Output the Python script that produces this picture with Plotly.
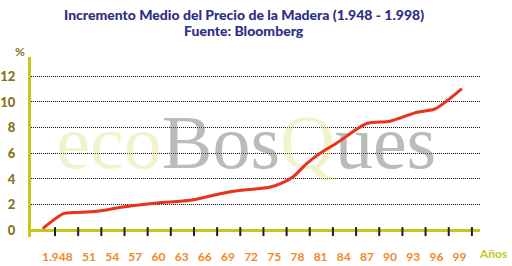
import plotly.graph_objects as go

# ---- data ----
line_years = [1946.4, 1949.1, 1950.4, 1953.4, 1956.8, 1961.2, 1965.5, 1968.5, 1971.1,
              1975.9, 1977.2, 1978.8, 1980.6, 1982.3, 1984.5, 1988.4, 1991.4, 1994.9,
              1997.2, 1998.7, 2000.7]
line_values = [0.13, 1.30, 1.38, 1.48, 1.82, 2.13, 2.34, 2.73, 3.04,
               3.37, 3.64, 4.15, 5.20, 5.98, 6.80, 8.32, 8.50, 9.20,
               9.45, 10.05, 11.04]
tick_years = list(range(1948, 2003, 3))
label_years = [1948.3, 1952.4, 1955.4, 1958.4, 1961.4, 1964.4, 1967.4, 1970.4, 1973.4,
               1976.4, 1979.4, 1982.4, 1985.4, 1988.4, 1991.4, 1994.4, 1997.4, 2000.4]
label_text = ["1.948", "51", "54", "57", "60", "63", "66", "69", "72", "75",
              "78", "81", "84", "87", "90", "93", "96", "99"]
y_ticks = [0, 2, 4, 6, 8, 10, 12]
y_text = ["0", "2", "4", "6", "8", "10", "12"]
y_grid = [2, 4, 6, 8, 10, 12]
title_lines = ["Incremento Medio del Precio de la Madera (1.948 - 1.998)",
               "Fuente: Bloomberg"]

X_RANGE = [1944.89, 2003.05]
Y_RANGE = [-0.52, 13.5]
X_AXIS_POS = -Y_RANGE[0] / (Y_RANGE[1] - Y_RANGE[0])  # horizontal axis sits at y = 0

AXIS = "#c6c61c"
OLIVE = "#86711a"
ORANGE = "#f08a24"
NAVY = "#2d2e86"
RED = "#e8341c"
TICK = "#1e1e1e"

wm = ('<span style="color:rgba(220,220,120,0.37)">eco</span>'
      '<span style="color:rgba(120,130,120,0.53)">Bos</span>'
      '<span style="color:rgba(220,220,120,0.37)">Q</span>'
      '<span style="color:rgba(120,130,120,0.53)">ues</span>')

fig = go.Figure()
# watermark (behind the line)
fig.add_trace(go.Scatter(
    x=[(X_RANGE[0] + X_RANGE[1]) / 2 - 1.2], y=[6.3], mode="text", text=[wm],
    textposition="middle center",
    textfont=dict(family="Liberation Serif", size=76, color="#b7bcb7"),
    hoverinfo="skip", showlegend=False))
# main line
fig.add_trace(go.Scatter(
    x=line_years, y=line_values, mode="lines",
    line=dict(color=RED, width=3, shape="spline", smoothing=0.8),
    showlegend=False))

# tick marks crossing the horizontal axis, one per entry of tick_years
for t in tick_years:
    fig.add_shape(type="line", xref="x", yref="y", x0=t, x1=t, y0=-0.45, y1=0.25,
                  line=dict(color=TICK, width=2), layer="above")

title_font = dict(family="Lato", size=14, color=NAVY, weight=900)
fig.update_layout(
    width=512, height=266,
    margin=dict(l=31, r=32, t=57, b=29, autoexpand=False),
    paper_bgcolor="white", plot_bgcolor="white",
    xaxis=dict(range=X_RANGE, showgrid=False, zeroline=False,
               anchor="free", position=X_AXIS_POS,
               showline=True, linecolor=AXIS, linewidth=3,
               automargin=False, tickangle=0,
               tickmode="array", tickvals=label_years, ticktext=label_text,
               ticks="", ticklabelstandoff=14,
               tickfont=dict(family="Lato", size=12, color=ORANGE, weight="bold")),
    yaxis=dict(range=Y_RANGE, showgrid=False, automargin=False,
               zeroline=False,
               showline=True, linecolor=AXIS, linewidth=3,
               tickmode="array", tickvals=y_ticks, ticktext=y_text,
               ticks="", ticklabelstandoff=10,
               tickfont=dict(family="Lato", size=13, color=OLIVE, weight=900),
               minor=dict(tickmode="array", tickvals=y_grid, ticks="", showgrid=True,
                          gridcolor="#111111", gridwidth=1, griddash="1px,1px")),
    annotations=[
        dict(text=title_lines[0], xref="paper", yref="paper", x=(244 - 31) / 449, y=(237 - 15) / 180,
             xanchor="center", yanchor="middle", showarrow=False, font=title_font),
        dict(text=title_lines[1], xref="paper", yref="paper", x=(244 - 31) / 449, y=(237 - 30) / 180,
             xanchor="center", yanchor="middle", showarrow=False, font=title_font),
        dict(text="%", xref="paper", yref="paper", x=-0.0245, y=1.028,
             xanchor="center", yanchor="middle", showarrow=False,
             font=dict(family="Lato", size=12, color=OLIVE, weight="bold")),
        dict(text="Años", xref="paper", yref="paper", x=1.029, y=-0.089,
             xanchor="center", yanchor="middle", showarrow=False,
             font=dict(family="Lato", size=12, color=AXIS, weight="bold")),
    ],
)

fig.write_html("out.html")
